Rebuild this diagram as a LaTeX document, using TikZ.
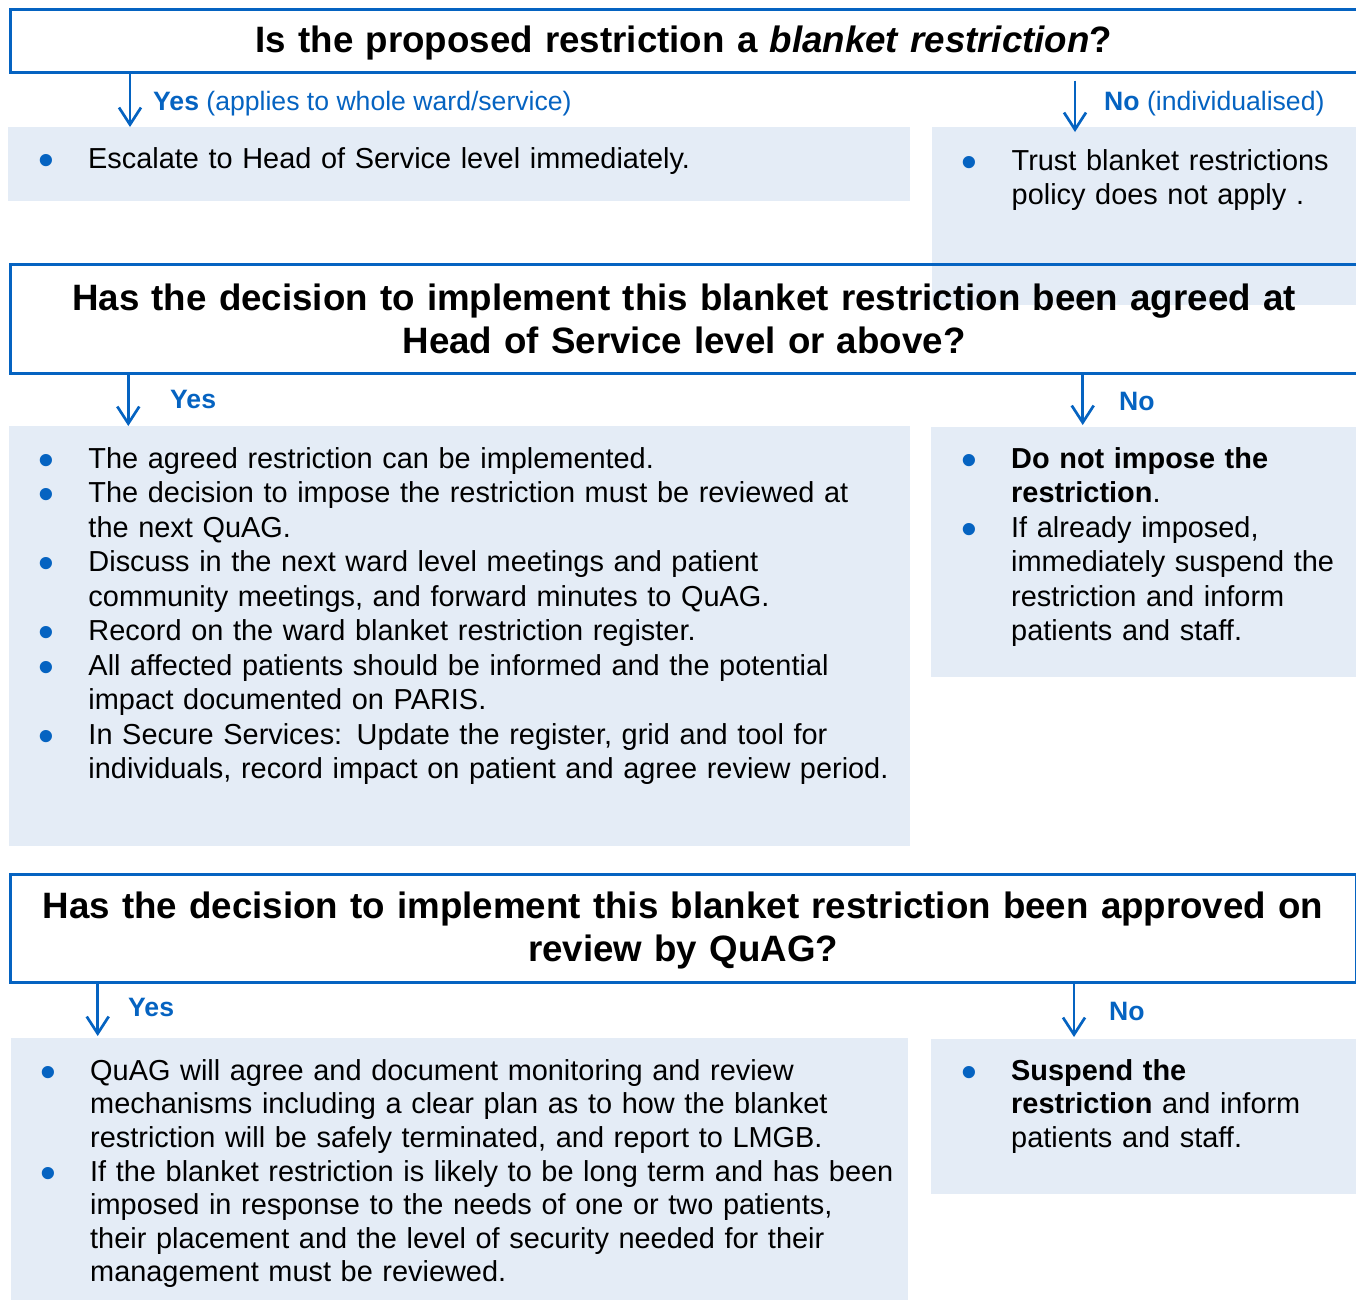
\documentclass[tikz,border=0pt]{standalone}
\usepackage{fontspec}
\setmainfont{Liberation Sans}
\usetikzlibrary{arrows.meta,positioning}
\definecolor{flowblue}{RGB}{5,99,193}
\definecolor{flowfill}{RGB}{228,236,246}
\newcommand{\fbul}{\makebox[47pt][l]{\hspace*{-3pt}\raisebox{-7pt}{\fontsize{45}{45}\selectfont\textcolor{flowblue}{\textbullet}}}\strut}
\newcommand{\fcont}{\hspace*{47pt}}
\begin{document}
\begin{tikzpicture}[x=1pt, y=-1pt,
  flowq/.style = {draw=flowblue, line width=3pt, inner sep=0pt, anchor=north west},
  flowqtxt/.style = {font=\fontsize{36.7}{43}\selectfont\bfseries, align=center, text width=1340pt, inner sep=0pt, anchor=north},
  flowbox/.style = {fill=flowfill, inner sep=0pt, anchor=north west},
  flowtxt/.style = {font=\fontsize{28.9}{34.5}\selectfont, align=left, inner sep=0pt, anchor=north west},
  flowtxtlow/.style = {flowtxt, font=\fontsize{28.9}{33.6}\selectfont},
  flowlbl/.style = {font=\fontsize{26.6}{30}\selectfont, text=flowblue, inner sep=0pt, anchor=base west},
  flowarr/.style = {draw=flowblue, line width=2.7pt, -{Straight Barb[length=17pt,width=22pt]}}
]
  \useasboundingbox (0,0) rectangle (1356,1299);
  \clip (0,0) rectangle (1356,1299);
  % filled boxes
  \node[flowbox, minimum width=902pt, minimum height=73.5pt] (b1) at (8,127) {};
  \node[flowbox, minimum width=430pt, minimum height=178pt] (b2) at (932,127) {};
  \node[flowbox, minimum width=901pt, minimum height=419.5pt] (b3) at (9,426) {};
  \node[flowbox, minimum width=430pt, minimum height=250pt] (b4) at (931,427) {};
  \node[flowbox, minimum width=897pt, minimum height=265pt] (b5) at (11,1038) {};
  \node[flowbox, minimum width=430pt, minimum height=154.3pt] (b6) at (931,1039) {};
  % question frames
  \node[flowq, minimum width=1350pt, minimum height=63pt] (q1) at (8.5,7.5) {};
  \node[flowq, minimum width=1351pt, minimum height=108.5pt] (q2) at (8.5,263) {};
  \node[flowq, minimum width=1345.5pt, minimum height=107.7pt] (q3) at (9,873) {};
  % questions
  \node[flowqtxt] (q1txt) at (684,21.9) {\strut Is the proposed restriction a \textit{blanket restriction}?};
  \node[flowqtxt] (q2txt) at (684,279.9) {\strut Has the decision to implement this blanket restriction been agreed at\\ Head of Service level or above?};
  \node[flowqtxt] (q3txt) at (683,888.2) {\strut Has the decision to implement this blanket restriction been approved on\\ review by QuAG?};
  % box texts
  \node[flowtxt, text width=870pt] (b1txt) at (41,143.85) {\fbul Escalate to Head of Service level immediately.};
  \node[flowtxt, text width=392pt] (b2txt) at (964.5,145.85) {\fbul Trust blanket restrictions\\ \fcont policy does not apply .};
  \node[flowtxt, text width=870pt] (b3txt) at (41.3,443.85) {\fbul The agreed restriction can be implemented.\\
    \fbul The decision to impose the restriction must be reviewed at\\ \fcont the next QuAG.\\
    \fbul Discuss in the next ward level meetings and patient\\ \fcont community meetings, and forward minutes to QuAG.\\
    \fbul Record on the ward blanket restriction register.\\
    \fbul All affected patients should be informed and the potential\\ \fcont impact documented on PARIS.\\
    \fbul In Secure Services: Update the register, grid and tool for\\ \fcont individuals, record impact on patient and agree review period.};
  \node[flowtxt, text width=392pt] (b4txt) at (964,443.85) {\fbul{\bfseries Do not impose the}\\ \fcont{\bfseries restriction}.\\
    \fbul If already imposed,\\ \fcont immediately suspend the\\ \fcont restriction and inform\\ \fcont patients and staff.};
  \node[flowtxtlow, text width=870pt] (b5txt) at (43,1056.5) {\fbul QuAG will agree and document monitoring and review\\ \fcont mechanisms including a clear plan as to how the blanket\\ \fcont restriction will be safely terminated, and report to LMGB.\\
    \fbul If the blanket restriction is likely to be long term and has been\\ \fcont imposed in response to the needs of one or two patients,\\ \fcont their placement and the level of security needed for their\\ \fcont management must be reviewed.};
  \node[flowtxtlow, text width=392pt] (b6txt) at (964,1056.5) {\fbul{\bfseries Suspend the}\\ \fcont{\bfseries restriction} and inform\\ \fcont patients and staff.};
  % answer labels
  \node[flowlbl] (l1) at (153,110) {\textbf{Yes} (applies to whole ward/service)};
  \node[flowlbl] (l2) at (1104,110) {\textbf{No} (individualised)};
  \node[flowlbl] (l3) at (170,408) {\textbf{Yes}};
  \node[flowlbl] (l4) at (1119,410) {\textbf{No}};
  \node[flowlbl] (l5) at (128,1016.5) {\textbf{Yes}};
  \node[flowlbl] (l6) at (1109,1020) {\textbf{No}};
  % arrows
  \draw[flowarr] (q1.south -| 130,0) -- (b1.north -| 130,0);
  \draw[flowarr] ([yshift=-7pt]q1.south -| 1075,0) -- ([yshift=-5pt]b2.north -| 1075,0);
  \draw[flowarr] (q2.south -| 128.3,0) -- (b3.north -| 128.3,0);
  \draw[flowarr] (q2.south -| 1082.7,0) -- ([yshift=2pt]b4.north -| 1082.7,0);
  \draw[flowarr] (q3.south -| 97.7,0) -- ([yshift=2pt]b5.north -| 97.7,0);
  \draw[flowarr] (q3.south -| 1074,0) -- ([yshift=2pt]b6.north -| 1074,0);
\end{tikzpicture}
\end{document}
